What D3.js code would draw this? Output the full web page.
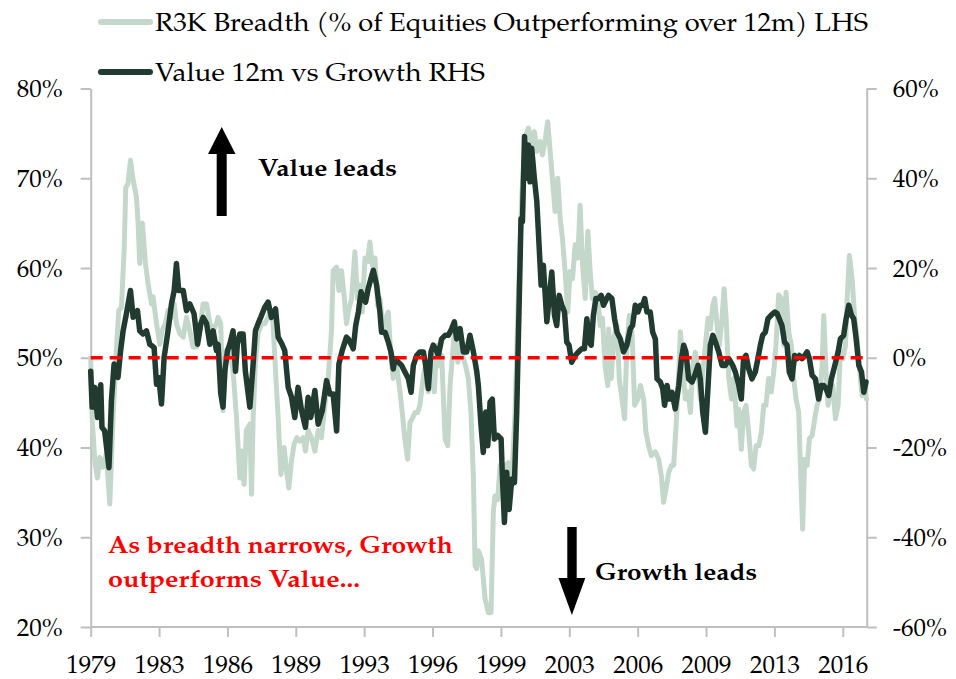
<!DOCTYPE html>
<html>
<head>
<meta charset="utf-8">
<script src="https://cdnjs.cloudflare.com/ajax/libs/d3/7.8.5/d3.min.js"></script>
<style>
    html, body { margin: 0; padding: 0; background: #fff; }
    svg text { font-family: "Palatino Linotype", "Book Antiqua", Palatino, "P052", "TeX Gyre Pagella", "Liberation Serif", serif; }
</style>
</head>
<body>
<svg id="chart" width="956" height="679"></svg>
<script>
// R3K breadth (% of equities outperforming over 12m), left axis: [decimal year, %]
var breadth = [
    [1979.75,50],[1979.82,43.3],[1979.95,38.5],[1980.08,36.6],[1980.19,38.9],[1980.35,37.8],[1980.51,39.3],[1980.68,33.7],
    [1980.84,43.3],[1981.00,50.8],[1981.12,55.3],[1981.25,55.6],[1981.38,62],[1981.46,69],[1981.57,69.4],[1981.69,72],
    [1981.82,69.8],[1981.98,67.9],[1982.06,65],[1982.14,60.5],[1982.27,65],[1982.42,60.5],[1982.55,58.2],[1982.71,56],
    [1982.79,56.8],[1982.96,53.8],[1983.12,51.5],[1983.23,53],[1983.39,53.8],[1983.52,55.3],[1983.69,54.5],[1983.82,56],
    [1983.93,53.8],[1984.09,52.7],[1984.26,52.3],[1984.42,54.5],[1984.58,53],[1984.74,51.2],[1984.91,51.2],[1985.07,53],
    [1985.23,56],[1985.40,56],[1985.56,53.8],[1985.72,53],[1985.88,53.8],[1985.96,54.5],[1986.09,53.8],[1986.20,44.1],
    [1986.37,50.8],[1986.53,50.8],[1986.69,48.6],[1986.86,43.3],[1987.02,36.6],[1987.10,39.6],[1987.23,35.9],[1987.34,41.9],
    [1987.51,42.6],[1987.59,34.8],[1987.67,43.3],[1987.78,49.3],[1987.91,52.7],[1988.08,53.8],[1988.24,53.8],[1988.40,54.5],
    [1988.53,55.3],[1988.64,53.8],[1988.76,48.6],[1988.89,43.3],[1989.02,37],[1989.18,40],[1989.30,37.4],[1989.41,35.5],
    [1989.54,38.5],[1989.67,40.4],[1989.80,41.1],[1989.95,40.7],[1990.11,41.1],[1990.22,39.6],[1990.35,41.9],[1990.51,41.1],
    [1990.68,39.6],[1990.84,41.9],[1991.00,41.1],[1991.17,44.8],[1991.33,47.8],[1991.49,53],[1991.57,59.7],[1991.74,60.1],
    [1991.85,57.5],[1991.98,59.7],[1992.11,56.8],[1992.22,53.8],[1992.31,55.1],[1992.47,56.6],[1992.63,61.8],[1992.76,56.6],
    [1992.88,58.1],[1992.99,55.1],[1993.12,61.1],[1993.25,60.7],[1993.36,62.9],[1993.48,60.3],[1993.61,61.1],[1993.74,55.8],
    [1993.85,56.6],[1994.02,52.9],[1994.13,54.4],[1994.26,55.1],[1994.39,49.9],[1994.50,47.7],[1994.67,49.1],[1994.83,46.2],
    [1994.94,43.9],[1995.07,40.9],[1995.20,38.7],[1995.32,42.8],[1995.43,43.2],[1995.56,43.9],[1995.69,43.9],[1995.80,44.7],
    [1995.97,48],[1996.08,49.1],[1996.21,46.2],[1996.34,49.1],[1996.50,46.2],[1996.62,51.4],[1996.73,49.1],[1996.86,50.3],
    [1997.03,40.9],[1997.16,40.2],[1997.27,46.9],[1997.39,50.3],[1997.51,53.6],[1997.65,49.5],[1997.81,51.4],[1997.92,49.9],
    [1998.03,49.1],[1998.16,47.7],[1998.29,43.9],[1998.41,36.5],[1998.49,26.8],[1998.57,26.5],[1998.65,28.5],[1998.81,27.5],
    [1998.98,23.1],[1999.14,21.6],[1999.27,21.6],[1999.38,32.8],[1999.46,34.6],[1999.59,34.2],[1999.71,38],[1999.82,36.5],
    [1999.95,38],[2000.11,38.3],[2000.28,36.5],[2000.44,43.9],[2000.60,57],[2000.77,68.1],[2000.93,74.5],[2001.09,75.6],
    [2001.25,73.7],[2001.38,75.2],[2001.50,73],[2001.66,74.1],[2001.77,72.6],[2001.90,74.1],[2002.03,76.3],[2002.15,73],
    [2002.26,70],[2002.39,66.3],[2002.52,70],[2002.64,65.5],[2002.75,63.3],[2002.88,59.6],[2003.01,55.1],[2003.12,59.6],
    [2003.24,58.8],[2003.37,62.6],[2003.50,61.1],[2003.61,67],[2003.73,60.3],[2003.86,56.6],[2003.99,64.1],[2004.10,59.6],
    [2004.21,56.6],[2004.34,57.3],[2004.47,56.6],[2004.59,53.6],[2004.70,54.4],[2004.83,49.1],[2004.96,46.9],[2005.00,53.2],
    [2005.13,47.7],[2005.24,52.1],[2005.41,53.6],[2005.52,47.7],[2005.65,45.4],[2005.78,43.2],[2005.89,51.4],[2006.01,54.7],
    [2006.14,52.9],[2006.27,44.7],[2006.43,45.4],[2006.55,46.9],[2006.71,45.4],[2006.82,41.7],[2006.95,40.2],[2007.08,39.1],
    [2007.28,39.5],[2007.44,38.7],[2007.57,36.9],[2007.68,33.9],[2007.80,35.4],[2007.93,37.2],[2008.06,38],[2008.17,38],
    [2008.29,42.4],[2008.42,48.4],[2008.50,52.9],[2008.61,49.1],[2008.74,45.4],[2008.87,46.2],[2008.99,43.9],[2009.10,49.1],
    [2009.23,50.6],[2009.36,48.4],[2009.47,45.4],[2009.59,48.4],[2009.72,51.4],[2009.85,54.4],[2009.96,53.2],[2010.08,55.8],
    [2010.17,56.6],[2010.29,53.6],[2010.40,51.4],[2010.53,54.4],[2010.63,57.7],[2010.73,54.4],[2010.86,47.7],[2010.99,45.4],
    [2011.10,47.7],[2011.26,42.4],[2011.34,44.3],[2011.47,39.8],[2011.58,43.9],[2011.70,44.7],[2011.83,41.7],[2011.96,38],
    [2012.07,37.6],[2012.19,40.2],[2012.32,40.2],[2012.45,41.7],[2012.56,44.7],[2012.67,44.7],[2012.80,47.7],[2012.93,46.2],
    [2013.05,48.4],[2013.16,51.4],[2013.29,57],[2013.42,56.6],[2013.54,51.4],[2013.65,57.3],[2013.78,52.9],[2013.91,51.4],
    [2014.02,47.7],[2014.14,45.4],[2014.27,43.9],[2014.35,38],[2014.46,30.9],[2014.56,38.7],[2014.68,38],[2014.79,41],
    [2014.92,41.3],[2015.05,43.2],[2015.16,44.7],[2015.28,45.4],[2015.41,49.1],[2015.49,54.7],[2015.60,48.4],[2015.70,44.7],
    [2015.81,46.2],[2015.93,46.9],[2016.06,43.2],[2016.19,44.7],[2016.30,50.6],[2016.42,49.9],[2016.55,51.4],[2016.63,56.6],
    [2016.74,61.4],[2016.87,58.8],[2017.00,54.4],[2017.12,52.1],[2017.23,48.8],[2017.36,45.8],[2017.49,46.5],[2017.57,45.4]
];

// Value 12m vs Growth, right axis: [decimal year, %]
var valueVsGrowth = [
    [1979.75,-3],[1979.82,-11],[1979.95,-6.6],[1980.08,-13.3],[1980.24,-6],[1980.30,-15.5],[1980.43,-16.3],[1980.64,-24.5],
    [1980.76,-9.6],[1980.89,-1.4],[1981.08,-4.4],[1981.21,1.6],[1981.33,6],[1981.49,9.8],[1981.69,15],[1981.82,9],
    [1982.03,10.5],[1982.14,6],[1982.30,5.3],[1982.47,6],[1982.63,3],[1982.84,2.3],[1982.96,-5.9],[1983.07,-4.4],
    [1983.20,-10.3],[1983.33,0.1],[1983.52,6],[1983.69,12],[1983.82,15],[1983.93,21],[1984.04,15],[1984.26,15],
    [1984.42,10.5],[1984.58,12],[1984.79,9.8],[1984.96,3],[1985.12,7.6],[1985.23,9],[1985.40,7.6],[1985.56,3],
    [1985.72,6],[1985.88,1.6],[1985.96,3],[1986.09,-8],[1986.20,-11],[1986.29,-3],[1986.42,1.6],[1986.53,3],
    [1986.69,6],[1986.81,-3],[1986.90,3],[1987.02,5.3],[1987.18,5.3],[1987.29,-3],[1987.51,-11],[1987.67,-1.4],
    [1987.78,6],[1987.91,7.6],[1988.04,9],[1988.24,11.3],[1988.40,12.4],[1988.56,9],[1988.76,10.9],[1988.89,4.6],
    [1989.08,3],[1989.21,1.6],[1989.38,-6.6],[1989.54,-8.8],[1989.70,-13.3],[1989.86,-6.6],[1990.03,-11.8],[1990.22,-15.5],
    [1990.35,-8.8],[1990.48,-13.3],[1990.68,-7.3],[1990.84,-14.8],[1991.04,-11.8],[1991.25,-5.1],[1991.41,-8.1],[1991.57,-8.1],
    [1991.74,-16.3],[1991.85,-1.4],[1992.01,1.6],[1992.22,4.6],[1992.31,4.2],[1992.47,2.8],[1992.55,2],[1992.67,7.2],
    [1992.80,10.2],[1992.93,14.7],[1993.04,13.2],[1993.15,12.4],[1993.28,15.4],[1993.41,17.6],[1993.53,19.5],[1993.69,16.2],
    [1993.85,10.2],[1993.93,5.7],[1994.10,5.7],[1994.26,3.5],[1994.39,1.3],[1994.50,-2.5],[1994.58,-0.2],[1994.75,-1],
    [1994.91,-1.7],[1995.07,-3.2],[1995.24,-4.7],[1995.37,-7.7],[1995.48,-1.7],[1995.64,0.5],[1995.80,1.3],[1995.97,1.3],
    [1996.08,-1.7],[1996.21,-6.9],[1996.34,1.3],[1996.45,2.8],[1996.57,2],[1996.70,0.5],[1996.86,4.2],[1997.03,5],
    [1997.19,5],[1997.35,6.5],[1997.48,8],[1997.59,4.2],[1997.76,6.5],[1997.92,1.3],[1998.08,1.3],[1998.24,5],
    [1998.41,1.3],[1998.57,-3],[1998.65,-6.2],[1998.78,-15.1],[1998.89,-21.1],[1999.01,-12.1],[1999.11,-19.6],[1999.22,-9.9],
    [1999.33,-9.2],[1999.43,-18.1],[1999.59,-17.3],[1999.76,-18.1],[1999.82,-26.3],[1999.92,-36.7],[2000.03,-25.5],[2000.15,-33.8],
    [2000.28,-27],[2000.41,-27.8],[2000.52,-12.1],[2000.63,10.2],[2000.73,31],[2000.80,30.3],[2000.90,49.3],[2001.01,40],
    [2001.09,47.4],[2001.17,39.2],[2001.25,46.7],[2001.38,40],[2001.50,34.8],[2001.61,25.1],[2001.71,16.2],[2001.82,20.6],
    [2001.99,8],[2002.10,13.2],[2002.23,19.1],[2002.36,9.5],[2002.47,7.2],[2002.59,13.9],[2002.72,11.7],[2002.85,10.2],
    [2002.96,3.5],[2003.07,2.8],[2003.20,-1],[2003.37,0.5],[2003.53,1.3],[2003.69,2],[2003.82,2],[2003.94,8.7],
    [2004.05,3.5],[2004.15,2.8],[2004.26,9.5],[2004.38,13.2],[2004.51,13.2],[2004.64,13.9],[2004.75,11.7],[2004.91,13.2],
    [2005.00,13.9],[2005.16,13.2],[2005.29,8.7],[2005.41,5.7],[2005.57,4.2],[2005.73,1.3],[2005.89,2.8],[2006.06,6.5],
    [2006.17,7.2],[2006.30,11.7],[2006.43,10.2],[2006.55,11.7],[2006.66,11.7],[2006.76,13.2],[2006.87,10.2],[2007.03,10.2],
    [2007.15,5.7],[2007.28,4.2],[2007.36,-4.7],[2007.52,-5.4],[2007.64,-6.9],[2007.73,-10.6],[2007.85,-6.2],[2007.96,-9.2],
    [2008.09,-7.7],[2008.25,-11.4],[2008.42,-6.2],[2008.55,-0.2],[2008.66,2.8],[2008.77,1.3],[2008.90,-4.7],[2009.07,-5.4],
    [2009.20,-3.9],[2009.36,-1.7],[2009.47,-4.7],[2009.59,-12.1],[2009.72,-16.6],[2009.85,-6.2],[2009.96,2.8],[2010.08,5],
    [2010.21,3.5],[2010.37,1.3],[2010.53,-1.7],[2010.69,-1.7],[2010.86,-0.2],[2011.05,-1.7],[2011.18,-3.2],[2011.34,-6],
    [2011.47,-9.2],[2011.58,-0.2],[2011.70,0.5],[2011.83,-2.5],[2011.99,-4.7],[2012.15,-3.2],[2012.28,-0.2],[2012.40,2.8],
    [2012.51,5],[2012.64,5.7],[2012.77,8.7],[2012.93,9.5],[2013.10,10.2],[2013.21,9.9],[2013.32,8.7],[2013.45,7.2],
    [2013.58,3.5],[2013.70,2.8],[2013.81,-3.2],[2013.94,-4.7],[2014.07,0.5],[2014.19,-0.2],[2014.30,0.5],[2014.43,-0.2],
    [2014.56,0.5],[2014.68,1.3],[2014.79,-0.2],[2014.92,-3.9],[2015.08,-4.7],[2015.24,-9.2],[2015.37,-6.2],[2015.49,-6.2],
    [2015.60,-6.9],[2015.73,-8.4],[2015.86,-4.7],[2016.03,-1.7],[2016.19,1.3],[2016.30,4.2],[2016.46,5],[2016.58,8.7],
    [2016.71,11.7],[2016.84,9.5],[2016.95,8.7],[2017.07,4.2],[2017.20,-1.7],[2017.33,-3.2],[2017.44,-7.7],[2017.55,-5.4]
];

var xTickLabels = ['1979', '1983', '1986', '1989', '1993', '1996', '1999', '2003', '2006', '2009', '2013', '2016'];
var leftTicks = [20, 30, 40, 50, 60, 70, 80];
var rightTicks = [-60, -40, -20, 0, 20, 40, 60];
var seriesNames = ['R3K Breadth (% of Equities Outperforming over 12m) LHS', 'Value 12m vs Growth RHS'];

// axis starts Oct 1979, one label every 40 months, 454 months shown
var startYear = 1979.75;
var labelStepYears = 40 / 12;
var endYear = startYear + 454 / 12;

var colors = { breadth: '#c3d8cb', value: '#213b30', axis: '#bfbfbf', red: '#ff0000' };

var svg = d3.select('#chart');

var x = d3.scaleLinear().domain([startYear, endYear]).range([90.7, 866.7]);
var yL = d3.scaleLinear().domain([20, 80]).range([627, 88.5]);
var yR = d3.scaleLinear().domain([-60, 60]).range([627, 88.5]);

function styleAxis(g) {
    g.selectAll('path').attr('stroke', colors.axis).attr('stroke-width', 2);
    g.selectAll('line').attr('stroke', colors.axis).attr('stroke-width', 2);
    g.selectAll('text').attr('font-size', 25).style('fill', '#000');
}

var xTickValues = xTickLabels.map(function(d, i) { return startYear + i * labelStepYears; });

svg.append('g')
    .attr('transform', 'translate(0,627)')
    .call(d3.axisBottom(x).tickValues(xTickValues).tickSize(10).tickSizeOuter(0).tickPadding(18)
        .tickFormat(function(d, i) { return xTickLabels[i]; }))
    .call(styleAxis)
    .call(function(g) { g.select('.domain').attr('d', 'M90.7,0H866.7'); });

svg.append('g')
    .attr('transform', 'translate(90.7,0)')
    .call(d3.axisLeft(yL).tickValues(leftTicks).tickSize(10).tickSizeOuter(0).tickPadding(18)
        .tickFormat(function(d) { return d + '%'; }))
    .call(styleAxis);

svg.append('g')
    .attr('transform', 'translate(866.7,0)')
    .call(d3.axisRight(yR).tickValues(rightTicks).tickSize(10).tickSizeOuter(0).tickPadding(16)
        .tickFormat(function(d) { return d + '%'; }))
    .call(styleAxis);

// series
var lineL = d3.line().x(function(d) { return x(d[0]); }).y(function(d) { return yL(d[1]); });
var lineR = d3.line().x(function(d) { return x(d[0]); }).y(function(d) { return yR(d[1]); });

svg.append('path')
    .datum(breadth)
    .attr('d', lineL)
    .attr('fill', 'none')
    .attr('stroke', colors.breadth)
    .attr('stroke-width', 5)
    .attr('stroke-linejoin', 'round')
    .attr('stroke-linecap', 'round');

svg.append('path')
    .datum(valueVsGrowth)
    .attr('d', lineR)
    .attr('fill', 'none')
    .attr('stroke', colors.value)
    .attr('stroke-width', 5.5)
    .attr('stroke-linejoin', 'round')
    .attr('stroke-linecap', 'round');

// zero line (value vs growth)
svg.append('line')
    .attr('x1', x(startYear)).attr('x2', x(endYear))
    .attr('y1', yR(0)).attr('y2', yR(0))
    .attr('stroke', colors.red)
    .attr('stroke-width', 3.5)
    .attr('stroke-dasharray', '12,7');

// legend
var legend = svg.append('g');
[colors.breadth, colors.value].forEach(function(c, i) {
    var ly = 22 + i * 50;
    legend.append('line')
        .attr('x1', 101).attr('x2', 150).attr('y1', ly).attr('y2', ly)
        .attr('stroke', c).attr('stroke-width', 6).attr('stroke-linecap', 'round');
    legend.append('text')
        .attr('x', 155).attr('y', ly + 9)
        .attr('font-size', 26)
        .attr('textLength', i === 0 ? 713 : 330)
        .attr('lengthAdjust', 'spacingAndGlyphs')
        .style('fill', '#000')
        .text(seriesNames[i]);
});

// annotations
function note(txt, tx, ty, len, color) {
    svg.append('text')
        .attr('x', tx).attr('y', ty)
        .attr('font-size', 24)
        .attr('font-weight', 'bold')
        .attr('textLength', len)
        .attr('lengthAdjust', 'spacingAndGlyphs')
        .style('fill', color)
        .text(txt);
}
note('Value leads', 258, 176, 139, '#000');
note('Growth leads', 595, 580, 162, '#000');
note('As breadth narrows, Growth', 108, 553, 345, colors.red);
note('outperforms Value...', 108, 587, 252, colors.red);

// arrows
svg.append('path')
    .attr('d', 'M221.7,127 L235.5,154 L226.7,154 L226.7,216 L216.7,216 L216.7,154 L208,154 Z')
    .attr('fill', '#000');
svg.append('path')
    .attr('d', 'M567.3,527 L576.7,527 L576.7,578 L585.3,578 L571.9,615 L558.5,578 L567.3,578 Z')
    .attr('fill', '#000');
</script>
</body>
</html>
